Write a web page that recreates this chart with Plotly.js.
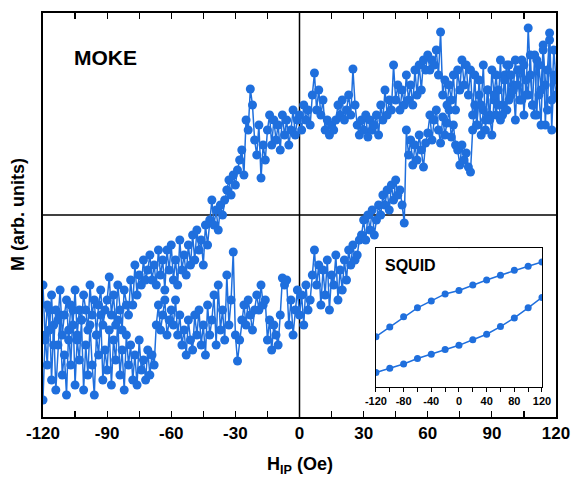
<!DOCTYPE html>
<html>
<head>
<meta charset="utf-8">
<script src="https://cdn.plot.ly/plotly-3.0.1.min.js"></script>
<style>html,body{margin:0;padding:0;background:#fff;}#chart{width:572px;height:483px;}</style>
</head>
<body>
<div id="chart"></div>
<script>
// ---- MOKE data (field grid: -120 to 120 Oe, step 1 Oe) ----
var mokeFieldStart = -120;
var mokeFieldStep = 1;
// ascending-field branch (lower)
var mokeLower = [
 -185,-120,-150,-95,-165,-110,-175,-130,-100,-160,
 -140,-180,-115,-150,-95,-170,-125,-145,-105,-175,
 -130,-160,-110,-150,-180,-120,-140,-100,-165,-135,
 -155,-115,-170,-125,-145,-105,-160,-135,-175,-120,
 -150,-130,-165,-140,-170,-125,-155,-145,-165,-135,
 -160,-140,-150,-110,-90,-115,-100,-85,-120,-105,
 -95,-110,-85,-120,-100,-130,-115,-140,-105,-125,
 -135,-100,-120,-95,-130,-110,-140,-90,-120,-105,
 -80,-130,-70,-115,-95,-125,-60,-110,-85,-37,
 -120,-146,-125,-105,-90,-110,-85,-100,-115,-95,
 -80,-95,-70,-90,-85,-125,-105,-135,-110,-120,
 -130,-100,-63,-70,-65,-110,-85,-120,-95,-75,
 -100,-80,-110,-70,-95,-85,-60,-35,-70,-50,
 -90,-55,-80,-45,-95,-60,-70,-40,-85,-55,
 -75,-45,-65,-35,-50,-30,-45,-40,-25,-20,
 -5,-25,0,-15,5,-20,-5,10,0,20,
 10,25,5,30,15,35,20,25,10,-8,
 85,60,75,50,70,55,80,65,48,72,
 82,100,75,95,105,85,72,98,80,92,
 105,78,90,70,65,50,70,55,62,48,
 43,85,110,90,120,80,105,95,125,100,
 80,115,100,125,95,110,140,105,150,120,
 130,95,145,115,155,100,135,120,160,110,
 100,155,120,90,165,130,105,175,85,140,
 120
];
// descending-field branch (upper)
var mokeUpper = [
 -70,-125,-90,-115,-80,-130,-95,-105,-75,-120,
 -100,-85,-125,-90,-110,-75,-120,-95,-105,-80,
 -95,-115,-70,-100,-85,-120,-90,-75,-110,-95,
 -85,-62,-100,-80,-110,-70,-95,-115,-75,-90,
 -100,-65,-90,-50,-80,-60,-70,-45,-65,-55,
 -40,-65,-50,-70,-35,-60,-45,-75,-35,-55,
 -30,-65,-45,-70,-25,-55,-40,-60,-30,-50,
 -20,-45,-15,-35,-25,-50,-10,-30,-5,15,
 -10,5,-15,10,0,15,25,35,20,40,
 30,45,55,65,40,95,85,126,110,75,
 60,90,37,70,55,85,100,70,95,75,
 90,65,100,80,95,70,85,105,80,95,
 100,85,110,95,105,90,120,142,105,125,
 100,115,85,95,80,90,85,95,110,100,
 115,95,105,120,100,146,110,90,80,95,
 85,100,78,95,85,90,100,80,110,95,
 125,100,115,105,150,115,130,105,125,110,
 140,115,130,110,145,120,150,125,155,145,
 160,145,155,150,165,140,183,120,135,110,
 130,115,140,105,145,125,155,130,150,120,
 145,100,140,90,135,110,150,85,125,95,
 145,120,140,110,155,100,135,150,115,140,
 125,155,130,145,115,150,120,187,140,110,
 160,100,150,125,170,90,145,182,115,165,
 135
];

// ---- SQUID inset data ----
var squidField = [-120,-100,-80,-60,-40,-20,0,20,40,60,80,100,120];
var squidUpper = [-0.275,-0.135,0.01,0.14,0.24,0.34,0.39,0.47,0.54,0.61,0.68,0.74,0.80];
var squidLower = [-0.79,-0.73,-0.67,-0.59,-0.53,-0.46,-0.40,-0.32,-0.24,-0.13,-0.005,0.14,0.29];

// ---- tick labels ----
var mainTicks = [-120,-90,-60,-30,0,30,60,90,120];
var mainTickText = ['-120','-90','-60','-30','0','30','60','90','120'];
var insetTicks = [-120,-80,-40,0,40,80,120];
var insetTickText = ['-120','-80','-40','0','40','80','120'];

var mokeField = mokeLower.map(function(_, i){ return mokeFieldStart + mokeFieldStep * i; });

var blue = '#1f6fdd';
var FONT = 'Liberation Sans, Arial, Helvetica, sans-serif';

var mokeStyle = {
  mode: 'lines+markers',
  line: {color: blue, width: 1.5},
  marker: {color: blue, size: 9},
  xaxis: 'x', yaxis: 'y', showlegend: false, hoverinfo: 'skip'
};
var traces = [
  Object.assign({x: mokeField, y: mokeLower, type: 'scatter'}, mokeStyle),
  Object.assign({x: mokeField, y: mokeUpper, type: 'scatter'}, mokeStyle),
  {x: squidField, y: squidUpper, type: 'scatter', mode: 'lines+markers',
   line: {color: blue, width: 1.5}, marker: {color: blue, size: 7},
   xaxis: 'x2', yaxis: 'y2', showlegend: false, hoverinfo: 'skip'},
  {x: squidField, y: squidLower, type: 'scatter', mode: 'lines+markers',
   line: {color: blue, width: 1.5}, marker: {color: blue, size: 7},
   xaxis: 'x2', yaxis: 'y2', showlegend: false, hoverinfo: 'skip'}
];

var layout = {
  width: 572, height: 483,
  margin: {l: 43, r: 16, t: 13, b: 66},
  paper_bgcolor: '#fff', plot_bgcolor: '#fff',
  showlegend: false,
  font: {family: FONT, color: '#000'},
  xaxis: {
    range: [-120, 120], domain: [0, 1], anchor: 'y',
    tickvals: mainTicks, ticktext: mainTickText,
    ticks: 'inside', ticklen: 6, tickwidth: 1.2, tickcolor: '#000',
    minor: {dtick: 15, ticks: 'inside', ticklen: 6, tickwidth: 1.2, tickcolor: '#000'},
    showline: true, linecolor: '#000', linewidth: 2, mirror: 'ticks',
    showgrid: false, zeroline: false,
    tickfont: {family: FONT, size: 17, weight: 'bold', color: '#000'}
  },
  yaxis: {
    range: [-202, 202], domain: [0, 1], anchor: 'x',
    showticklabels: false, ticks: '',
    showline: true, linecolor: '#000', linewidth: 2, mirror: true,
    showgrid: false, zeroline: false
  },
  xaxis2: {
    range: [-120, 120], domain: [0.649, 0.9727], anchor: 'y2',
    tickvals: insetTicks, ticktext: insetTickText,
    ticks: 'outside', ticklen: 4, tickwidth: 1, tickcolor: '#000',
    minor: {dtick: 20, ticks: 'outside', ticklen: 4, tickwidth: 1, tickcolor: '#000'},
    showline: true, linecolor: '#000', linewidth: 1.2, mirror: true,
    showgrid: false, zeroline: false,
    tickfont: {family: FONT, size: 11, weight: 'bold', color: '#000'}
  },
  yaxis2: {
    range: [-1, 1], domain: [0.0743, 0.418], anchor: 'x2',
    showticklabels: false, ticks: '',
    showline: true, linecolor: '#000', linewidth: 1.2, mirror: true,
    showgrid: false, zeroline: false
  },
  shapes: [
    {type: 'line', xref: 'x', yref: 'paper', x0: 0, x1: 0, y0: 0, y1: 1,
     line: {color: '#000', width: 1.5}, layer: 'below'},
    {type: 'line', xref: 'paper', yref: 'y', x0: 0, x1: 1, y0: 0, y1: 0,
     line: {color: '#000', width: 1.5}, layer: 'below'},
    {type: 'rect', xref: 'x2 domain', yref: 'y2 domain', x0: 0, x1: 1, y0: 0, y1: 1,
     fillcolor: '#fff', line: {width: 0}, layer: 'below'},
    {type: 'line', xref: 'x2', yref: 'y2 domain', x0: 0, x1: 0, y0: 0, y1: 1,
     line: {color: '#000', width: 1}, layer: 'below'},
    {type: 'line', xref: 'x2 domain', yref: 'y2', x0: 0, x1: 1, y0: 0, y1: 0,
     line: {color: '#000', width: 1}, layer: 'below'}
  ],
  annotations: [
    {text: 'MOKE', xref: 'paper', yref: 'paper', x: (105-43)/513, y: (417-57.5)/404,
     showarrow: false, xanchor: 'center', yanchor: 'middle',
     font: {family: FONT, size: 21, weight: 'bold', color: '#000'}},
    {text: 'SQUID', xref: 'paper', yref: 'paper', x: (410-43)/513, y: (417-265)/404,
     showarrow: false, xanchor: 'center', yanchor: 'middle',
     font: {family: FONT, size: 16, weight: 'bold', color: '#000'}},
    {text: 'H<sub>IP</sub> (Oe)', xref: 'paper', yref: 'paper', x: (300-43)/513, y: (417-466)/404,
     showarrow: false, xanchor: 'center', yanchor: 'middle',
     font: {family: FONT, size: 18, weight: 'bold', color: '#000'}},
    {text: 'M (arb. units)', xref: 'paper', yref: 'paper', x: (18-43)/513, y: 0.5,
     showarrow: false, xanchor: 'center', yanchor: 'middle', textangle: -90,
     font: {family: FONT, size: 18, weight: 'bold', color: '#000'}}
  ]
};

Plotly.newPlot('chart', traces, layout, {displayModeBar: false, staticPlot: true});
</script>
</body>
</html>
